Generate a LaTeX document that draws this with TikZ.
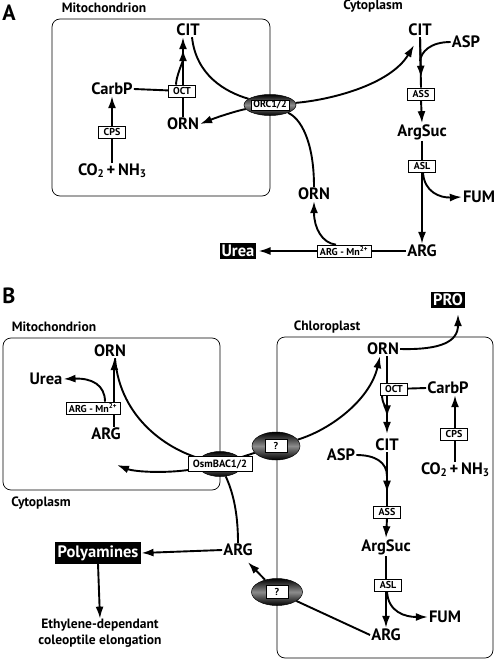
\documentclass[tikz,border=0pt]{standalone}
\usepackage{fontspec}
\setmainfont{PT Sans}
\usetikzlibrary{arrows.meta,shapes.geometric,backgrounds}

\newcommand\lowdig[1]{\raisebox{-0.2ex}{\fontsize{11}{11}\selectfont #1}}

\tikzset{
  met/.style={font=\fontsize{16.5}{16.5}\selectfont\bfseries, inner sep=1pt},
  comp/.style={font=\fontsize{13.5}{14}\selectfont\bfseries, inner sep=0pt},
  enz/.style={draw, fill=white, line width=0.6pt, inner xsep=5pt, inner ysep=1.5pt,
              minimum height=12pt, font=\fontsize{10}{10}\selectfont\bfseries},
  blk/.style={fill=black, text=white, inner sep=2pt,
              font=\fontsize{16.5}{16.5}\selectfont\bfseries},
  chan/.style={ellipse, draw=black, line width=0.5pt, inner sep=0pt,
               top color=black, bottom color=black, middle color=black!45},
  memb/.style={draw, line width=0.7pt, rounded corners=8pt},
  pipe/.style={line width=1.9pt},
  flow/.style={line width=1.9pt, -{Latex[length=12pt,width=8pt]}},
}

\begin{document}
\begin{tikzpicture}[x=1pt,y=-1pt]
        \useasboundingbox (0,0) rectangle (498,661);
        % 图A
        \node [font=\fontsize{22}{22}\selectfont\bfseries] (labA) at (9,13) {A};
        \node [comp] (mitoA) at (104,8) {Mitochondrion};
        \node [comp] (cytoA) at (373,6) {Cytoplasm};
        % 线粒体内
        \node [met] (citM) at (188,30) {CIT};
        \node [met] (carbA) at (112,89) {CarbP};
        \node [enz] (octA) at (182,91) {OCT};
        \node [met] (ornM) at (183,124) {ORN};
        \node [enz] (cpsA) at (112,132) {CPS};
        \node [met] (co2A) at (112,171) {CO\lowdig{2}\,+\,NH\lowdig{3}};
        % 转运体
        \node [chan, minimum width=52pt, minimum height=21pt] (orc) at (270,105) {};
        \node [enz, minimum height=10pt, inner ysep=0.5pt, inner xsep=2.5pt] (orcL) at (orc) {ORC1/2};
        % 细胞质
        \node [met] (citC) at (420,30) {CIT};
        \node [met] (aspA) at (466,42) {ASP};
        \node [enz] (assA) at (421,94) {ASS};
        \node [met] (sucA) at (422,132) {ArgSuc};
        \node [enz] (aslA) at (422,166) {ASL};
        \node [met] (fumA) at (479,197) {FUM};
        \node [met] (argA) at (422,251) {ARG};
        \node [met] (ornC) at (314,194) {ORN};
        \node [enz, inner xsep=3pt] (mnA) at (344,251) {ARG - Mn\textsuperscript{2+}};
        \node [blk] (ureaA) at (238,251) {Urea};

        % 图B
        \node [font=\fontsize{22}{22}\selectfont\bfseries] (labB) at (9,296) {B};
        \node [comp] (mitoB) at (54,327) {Mitochondrion};
        \node [comp] (cytoB) at (41,503) {Cytoplasm};
        \node [comp] (chlB) at (327,327) {Chloroplast};
        % 线粒体内
        \node [met] (ornMB) at (110,351) {ORN};
        \node [met] (ureaMB) at (46,379) {Urea};
        \node [enz, inner xsep=3pt] (mnB) at (93,408) {ARG - Mn\textsuperscript{2+}};
        \node [met] (argMB) at (106,434) {ARG};
        \coordinate (argMBin) at (117,465);
        % 转运体
        \node [chan, minimum width=45pt, minimum height=25pt] (osm) at (220,464) {};
        \node [enz, minimum height=15pt, font=\fontsize{10.5}{10.5}\selectfont\bfseries] (osmL) at (osm) {OsmBAC1/2};
        \node [chan, minimum width=48pt, minimum height=28pt] (q1) at (276,446) {};
        \node [enz, minimum width=22pt, minimum height=13pt, inner xsep=2pt] (q1L) at (q1) {?};
        \node [chan, minimum width=51pt, minimum height=27pt] (q2) at (277,592) {};
        \node [enz, minimum width=22pt, minimum height=13pt, inner xsep=2pt] (q2L) at (q2) {?};
        % 细胞质
        \node [met] (argC) at (238,550) {ARG};
        \node [blk, inner sep=3pt] (poly) at (98,553) {Polyamines};
        \node [comp, align=center, font=\fontsize{13.5}{16}\selectfont\bfseries] (elong) at (100,633)
              {Ethylene-dependant\\coleoptile elongation};
        % 叶绿体内
        \node [blk] (pro) at (448,300) {PRO};
        \node [met] (ornCh) at (383,349) {ORN};
        \node [enz] (octB) at (394,389) {OCT};
        \node [met] (carbB) at (448,388) {CarbP};
        \node [enz] (cpsB) at (454,434) {CPS};
        \node [met] (co2B) at (455,470) {CO\lowdig{2}\,+\,NH\lowdig{3}};
        \node [met] (citCh) at (387,445) {CIT};
        \node [met] (aspB) at (341,455) {ASP};
        \node [enz] (assB) at (387,512) {ASS};
        \node [met] (sucB) at (386,547) {ArgSuc};
        \node [enz] (aslB) at (388,585) {ASL};
        \node [met] (fumB) at (445,617) {FUM};
        \node [met] (argCh) at (386,635) {ARG};

        \begin{scope}[on background layer]
        % 膜
        \draw [memb] (52,19) rectangle (270,196);
        \draw [memb] (3,338) rectangle (220,490);
        \draw [memb] (277,337) rectangle (493,658);
        % A: 线粒体
        \draw [flow] (co2A.north) -- (carbA.south);
        \draw [pipe] (carbA.east) -- (octA.center);
        \draw [flow] (ornM.north) -- (ornM.north |- citM.south);
        \draw [flow] ([xshift=-6pt]octA.north) .. controls +(0,-8) and +(0,12) .. ([yshift=-12pt]ornM.north |- citM.south);
        \draw [pipe] ([xshift=4pt]citM.south) .. controls (196,75) and (225,92) .. (orc);
        \draw [flow] (orc) .. controls (240,110) and (220,116) .. (ornM.east);
        % A: 细胞质
        \draw [flow] (orc) .. controls (330,100) and (390,85) .. ([xshift=-6pt,yshift=-8pt]citC.south);
        \draw [pipe] (orc) .. controls (300,118) and (314,140) .. (ornC.north);
        \draw [flow] ([xshift=-8pt]mnA.north) .. controls (322,243) and (314,228) .. (ornC.south);
        \draw [pipe] (argA.west) -- (mnA.east);
        \draw [flow, shorten >=2pt] (mnA.west) -- (ureaA.east);
        \draw [pipe] (citC.south) -- (assA.north);
        \draw [flow] (citC.south) -- ([yshift=10pt]assA.north);
        \draw [pipe] (aspA.west) .. controls (430,42) and (421,52) .. ([yshift=-24pt]citC.south);
        \draw [flow] (assA.south) -- (sucA.north);
        \draw [flow] (sucA.south) -- (argA.north);
        \draw [flow] ([xshift=1pt]aslA.south) .. controls (424,192) and (440,198) .. (fumA.west);
        % B: 线粒体
        \draw [flow] (argMB.north -| mnB.north east) ++(-6,0) coordinate (vB) -- (vB |- ornMB.south);
        \draw [flow] ([xshift=12pt]mnB.north) .. controls (105,385) and (92,378) .. (ureaMB.east);
        \draw [pipe] ([xshift=5pt]ornMB.south) .. controls (120,420) and (170,450) .. (osm);
        \draw [flow] (osm) .. controls (170,474) and (135,472) .. (argMBin);
        % B: 细胞质
        \draw [pipe] (osm) .. controls (232,490) and (238,510) .. (argC.north);
        \draw [flow] (argC.west) -- (poly.east);
        \draw [flow] (poly.south) -- (elong.north);
        \draw [pipe] (q1) -- (osm);
        \draw [flow] (q1) .. controls (330,430) and (370,400) .. ([xshift=-3pt]ornCh.south);
        \draw [pipe] (argCh.west) -- (q2);
        \draw [flow] (q2) -- ([xshift=-6pt,yshift=-5pt]argC.south east);
        % B: 叶绿体
        \draw [flow, shorten >=6pt] (ornCh.east) .. controls (440,350) and (458,342) .. ([xshift=10pt]pro.south);
        \draw [pipe] (carbB.west) -- (octB.center);
        \draw [flow, shorten >=4pt] (ornCh.south -| citCh.north) -- (citCh.north);
        \draw [flow] ([xshift=-12pt]octB.south) .. controls +(0,8) and +(0,-8) .. ([xshift=-7pt,yshift=-22pt]octB.south);
        \draw [flow] (co2B.north) -- (co2B.north |- carbB.south);
        \draw [pipe] (citCh.south) -- (assB.north);
        \draw [flow] (citCh.south) -- ([yshift=13pt]assB.north);
        \draw [pipe] (aspB.east) .. controls (375,455) and (387,462) .. ([yshift=-24pt]citCh.south);
        \draw [flow] (assB.south) -- (sucB.north);
        \draw [flow] (sucB.south) -- (argCh.north);
        \draw [flow] ([xshift=-1pt]aslB.south) .. controls (388,612) and (405,617) .. (fumB.west);
        \end{scope}
    \end{tikzpicture}
\end{document}
